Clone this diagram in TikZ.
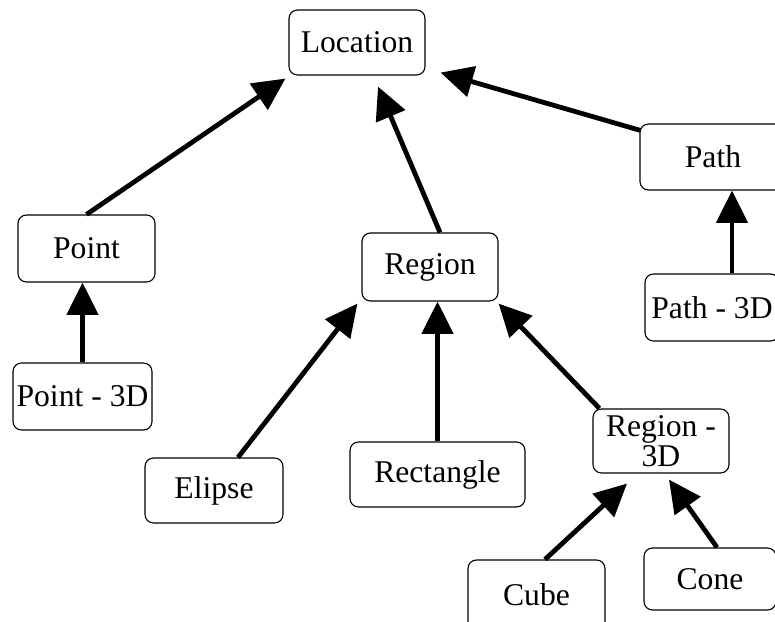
\documentclass[tikz,border=0pt]{standalone}
\usepackage{fontspec}
\setmainfont{Liberation Serif}
\usepackage{tikz}
\usetikzlibrary{arrows.meta, positioning}

\begin{document}
\begin{tikzpicture}[x=0.025cm, y=-0.025cm, >={Triangle[length=23pt, width=22pt]},
    box/.style={draw, line width=0.8pt, rounded corners=6pt, align=center, inner sep=2pt,
      font=\fontsize{22.5}{21}\selectfont, minimum height=65*0.025cm},
    link/.style={->, line width=3.4pt}]
      \useasboundingbox (0,0) rectangle (775,622);
      \clip (0,0) rectangle (775,622);
      % top
      \node[box, minimum width=136*0.025cm] (loc) at (357, 42.5) {Location};
      % second row
      \node[box, minimum width=137*0.025cm, minimum height=67*0.025cm] (pnt) at (86.5, 248.5) {Point};
      \node[box, minimum width=136*0.025cm, minimum height=68*0.025cm] (reg) at (430, 267) {Region};
      \node[box, minimum width=146*0.025cm, minimum height=66*0.025cm] (pth) at (713, 157) {Path};
      % lower rows
      \node[box, minimum width=139*0.025cm, minimum height=67*0.025cm] (pnt3) at (82.5, 396.5) {Point - 3D};
      \node[box, minimum width=134*0.025cm, minimum height=67*0.025cm] (pth3) at (712, 307.5) {Path - 3D};
      \node[box, minimum width=138*0.025cm] (eli) at (214, 490.5) {Elipse};
      \node[box, minimum width=175*0.025cm] (rect) at (437.5, 474.5) {Rectangle};
      \node[box, minimum width=136*0.025cm, minimum height=64*0.025cm] (reg3) at (661, 441) {Region -\\3D};
      \node[box, minimum width=137*0.025cm, minimum height=70*0.025cm] (cube) at (536.5, 595) {Cube};
      \node[box, minimum width=132*0.025cm, minimum height=62*0.025cm] (cone) at (710, 579) {Cone};
      % arrows
      \draw[link] (pnt.north) -- ([shift={(-3,3)}]loc.south west);
      \draw[link] ([shift={(10,0)}]reg.north) -- ([shift={(21,11)}]loc.south);
      \draw[link] ([shift={(1,7)}]pth.north west) -- ([shift={(15,-3)}]loc.south east);
      \draw[link] (pnt3.north) -- (pnt3.north |- pnt.south);
      \draw[link] ([shift={(20,0)}]pth3.north) -- ([shift={(20,0)}]pth3.north |- pth.south);
      \draw[link] ([shift={(24,0)}]eli.north) -- ([shift={(-4,2)}]reg.south west);
      \draw[link] (rect.north) -- (rect.north |- reg.south);
      \draw[link] ([shift={(7,0)}]reg3.north west) -- ([shift={(0,2)}]reg.south east);
      \draw[link] ([shift={(8.5,0)}]cube.north) -- ([shift={(-34,10)}]reg3.south);
      \draw[link] ([shift={(7,0)}]cone.north) -- ([shift={(8,6)}]reg3.south);
\end{tikzpicture}
\end{document}
